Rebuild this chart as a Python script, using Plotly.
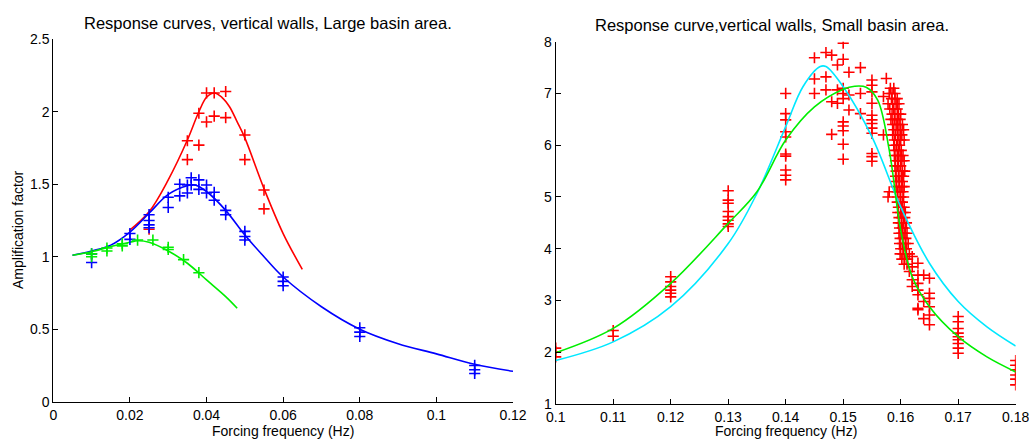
import plotly.graph_objects as go

# ---------------- Left panel: Large basin area ----------------
red_obs_f = [0.025, 0.035, 0.035, 0.038, 0.038, 0.04, 0.04, 0.042, 0.042, 0.045, 0.045, 0.05, 0.05, 0.055, 0.055]
red_obs_a = [1.19, 1.80, 1.67, 1.99, 1.77, 2.13, 1.93, 2.13, 1.97, 2.14, 1.96, 1.84, 1.67, 1.46, 1.33]

blue_obs_f = [0.01, 0.01, 0.02, 0.02, 0.025, 0.025, 0.025, 0.025, 0.03, 0.03, 0.033, 0.033,
              0.035, 0.035, 0.036, 0.036, 0.038, 0.038, 0.04, 0.04, 0.042, 0.042, 0.045, 0.045,
              0.05, 0.05, 0.05, 0.06, 0.06, 0.06, 0.08, 0.08, 0.08, 0.11, 0.11, 0.11]
blue_obs_a = [0.96, 1.02, 1.16, 1.12, 1.29, 1.25, 1.22, 1.20, 1.41, 1.34, 1.50, 1.42,
              1.495, 1.44, 1.545, 1.495, 1.53, 1.465, 1.495, 1.44, 1.445, 1.39, 1.32, 1.29,
              1.175, 1.14, 1.115, 0.86, 0.83, 0.80, 0.51, 0.48, 0.45, 0.25, 0.22, 0.195]

green_obs_f = [0.01, 0.01, 0.014, 0.014, 0.018, 0.018, 0.022, 0.026, 0.03, 0.03, 0.034, 0.038]
green_obs_a = [1.02, 1.00, 1.06, 1.04, 1.09, 1.075, 1.115, 1.115, 1.065, 1.05, 0.98, 0.89]

red_fit_f = [0.0198, 0.025, 0.03, 0.035, 0.038, 0.04, 0.042, 0.044, 0.046, 0.048, 0.05, 0.055, 0.06, 0.065]
red_fit_a = [1.18, 1.31, 1.53, 1.805, 2.0, 2.10, 2.13, 2.10, 2.035, 1.93, 1.82, 1.47, 1.16, 0.913]

blue_fit_f = [0.005, 0.01, 0.015, 0.02, 0.025, 0.03, 0.035, 0.037, 0.04, 0.045, 0.05, 0.055, 0.06,
              0.07, 0.08, 0.09, 0.10, 0.11, 0.12]
blue_fit_a = [1.01, 1.04, 1.08, 1.17, 1.30, 1.43, 1.49, 1.495, 1.45, 1.32, 1.15, 1.00, 0.86,
              0.655, 0.50, 0.40, 0.33, 0.258, 0.21]

green_fit_f = [0.005, 0.01, 0.015, 0.02, 0.022, 0.025, 0.03, 0.035, 0.04, 0.045, 0.048]
green_fit_a = [1.01, 1.035, 1.07, 1.10, 1.11, 1.10, 1.04, 0.955, 0.84, 0.725, 0.645]

# ---------------- Right panel: Small basin area ----------------
small_freq_groups = [0.10, 0.11, 0.12, 0.13, 0.14, 0.145, 0.147, 0.148, 0.149, 0.15, 0.151, 0.153,
                     0.155, 0.157, 0.1575, 0.1615, 0.162, 0.163, 0.164, 0.165, 0.17, 0.18]
small_amp_groups = [
    [2.08, 2.01, 1.91],
    [2.42, 2.31],
    [3.46, 3.36, 3.27, 3.20, 3.14, 3.07],
    [5.12, 4.94, 4.88, 4.72, 4.62, 4.55, 4.48, 4.43],
    [7.0, 6.61, 6.49, 6.26, 6.16, 5.83, 5.79, 5.52, 5.42, 5.33],
    [7.69, 7.28, 7.0],
    [7.79, 7.32, 7.07],
    [7.74, 6.84, 6.21],
    [7.55, 6.81, 7.07],
    [7.97, 7.66, 7.1, 7.0, 6.90, 6.45, 6.37, 6.28, 6.02, 5.73],
    [7.41, 6.97, 6.68],
    [7.50, 7.0, 6.61],
    [7.26, 7.16, 7.03, 6.81, 6.58, 6.49, 6.42, 6.33, 6.23, 5.84, 5.78, 5.69],
    [6.94, 6.20],
    [7.29],
    [3.56],
    [3.85, 3.65, 3.40, 3.27],
    [3.72, 3.49, 3.33, 3.20, 3.11, 2.85, 2.82],
    [3.49, 2.98, 2.65],
    [3.43, 3.14, 3.04, 2.88, 2.72, 2.53],
    [2.69, 2.59, 2.46, 2.37, 2.30, 2.24, 2.17, 2.08, 1.98],
    [1.84, 1.75, 1.66, 1.56, 1.48, 1.37],
]

cluster_levels = [7.1, 7.0, 6.9, 6.8, 6.7, 6.6, 6.5, 6.4, 6.3, 6.2, 6.1, 6.0, 5.9, 5.8, 5.7, 5.6,
                  5.5, 5.4, 5.3, 5.2, 5.1, 5.0, 4.9, 4.8, 4.7, 4.6, 4.5, 4.4, 4.3, 4.2, 4.1, 4.0,
                  3.9, 3.8, 3.7]
cluster_freqs = [
    [0.1582, 0.1588],
    [0.1580, 0.1585, 0.1590],
    [0.1584, 0.1590, 0.1594],
    [0.1578, 0.1586, 0.1592, 0.1597],
    [0.1581, 0.1588, 0.1594],
    [0.1585, 0.1590, 0.1596, 0.1600],
    [0.1583, 0.1589, 0.1594, 0.1599],
    [0.1586, 0.1592, 0.1597, 0.1603],
    [0.1588, 0.1594, 0.1600, 0.1605],
    [0.1586, 0.1591, 0.1597, 0.1602],
    [0.1589, 0.1595, 0.1600, 0.1606],
    [0.1588, 0.1593, 0.1598],
    [0.1590, 0.1596, 0.1601],
    [0.1589, 0.1594, 0.1599, 0.1604],
    [0.1591, 0.1596, 0.1602, 0.1606],
    [0.1590, 0.1595, 0.1600],
    [0.1592, 0.1597, 0.1603, 0.1607],
    [0.1591, 0.1596, 0.1601, 0.1605],
    [0.1593, 0.1598, 0.1603],
    [0.1592, 0.1597, 0.1602, 0.1606],
    [0.1580, 0.1594, 0.1599, 0.1604],
    [0.1578, 0.1595, 0.1600, 0.1605],
    [0.1594, 0.1599, 0.1603],
    [0.1596, 0.1601, 0.1606],
    [0.1595, 0.1600, 0.1604, 0.1608],
    [0.1597, 0.1602, 0.1607],
    [0.1596, 0.1601, 0.1605, 0.1610],
    [0.1598, 0.1603, 0.1608],
    [0.1597, 0.1602, 0.1606, 0.1611],
    [0.1599, 0.1604, 0.1609],
    [0.1598, 0.1603, 0.1608, 0.1613],
    [0.1600, 0.1605, 0.1610],
    [0.1599, 0.1604, 0.1609, 0.1615],
    [0.1602, 0.1607, 0.1612],
    [0.1606, 0.1611],
]

cyan_fit_f = [0.10, 0.11, 0.12, 0.13, 0.135, 0.14, 0.143, 0.146, 0.147, 0.15, 0.155, 0.16,
              0.165, 0.17, 0.175, 0.18]
cyan_fit_a = [1.84, 2.20, 2.88, 4.10, 5.07, 6.36, 7.13, 7.52, 7.52, 7.13, 6.16, 4.81,
              3.72, 2.98, 2.49, 2.12]

green2_fit_f = [0.10, 0.11, 0.12, 0.13, 0.135, 0.14, 0.145, 0.15, 0.152, 0.154, 0.156, 0.158,
                0.16, 0.162, 0.165, 0.17, 0.175, 0.18]
green2_fit_a = [1.99, 2.46, 3.33, 4.49, 5.10, 6.10, 6.74, 7.08, 7.14, 7.12, 6.87, 5.91,
                4.36, 3.46, 2.88, 2.30, 1.91, 1.62]

small_f, small_a = [], []
for f, amps in zip(small_freq_groups, small_amp_groups):
    for a in amps:
        small_f.append(f)
        small_a.append(a)
for a, freqs in zip(cluster_levels, cluster_freqs):
    for f in freqs:
        small_f.append(f)
        small_a.append(a)

FONT = "Arial, Liberation Sans, sans-serif"
RED, BLUE, GREEN, CYAN = "#ff0000", "#0000ff", "#00ee00", "#00e8ff"

def marker(color):
    return dict(symbol="cross-thin", size=8, line=dict(color=color, width=1.6), color=color)

fig = go.Figure()

fig.add_trace(go.Scatter(x=red_fit_f, y=red_fit_a, mode="lines", line=dict(color=RED, width=1.6, shape="spline"), xaxis="x", yaxis="y"))
fig.add_trace(go.Scatter(x=blue_fit_f, y=blue_fit_a, mode="lines", line=dict(color=BLUE, width=1.6, shape="spline"), xaxis="x", yaxis="y"))
fig.add_trace(go.Scatter(x=green_fit_f, y=green_fit_a, mode="lines", line=dict(color=GREEN, width=1.6, shape="spline"), xaxis="x", yaxis="y"))
fig.add_trace(go.Scatter(x=red_obs_f, y=red_obs_a, mode="markers", marker=marker(RED), xaxis="x", yaxis="y"))
fig.add_trace(go.Scatter(x=blue_obs_f, y=blue_obs_a, mode="markers", marker=marker(BLUE), xaxis="x", yaxis="y"))
fig.add_trace(go.Scatter(x=green_obs_f, y=green_obs_a, mode="markers", marker=marker(GREEN), xaxis="x", yaxis="y"))

fig.add_trace(go.Scatter(x=small_f, y=small_a, mode="markers", marker=marker(RED), xaxis="x2", yaxis="y2"))
fig.add_trace(go.Scatter(x=cyan_fit_f, y=cyan_fit_a, mode="lines", line=dict(color=CYAN, width=1.6, shape="spline"), xaxis="x2", yaxis="y2"))
fig.add_trace(go.Scatter(x=green2_fit_f, y=green2_fit_a, mode="lines", line=dict(color=GREEN, width=1.6, shape="spline"), xaxis="x2", yaxis="y2"))

axis_common = dict(showline=True, linecolor="black", linewidth=1, ticks="inside", ticklen=5,
                   tickcolor="black", showgrid=False, zeroline=False, mirror=False, automargin=False,
                   ticklabeloverflow="allow",
                   tickfont=dict(family=FONT, size=14, color="black"))

fig.update_layout(
    width=1029, height=439,
    margin=dict(l=0, r=0, t=0, b=0, autoexpand=False),
    paper_bgcolor="white", plot_bgcolor="white",
    showlegend=False,
    xaxis=dict(domain=[53.3 / 1029, 513 / 1029], range=[0, 0.12],
               tickvals=[0, 0.02, 0.04, 0.06, 0.08, 0.1, 0.12],
               ticktext=["0", "0.02", "0.04", "0.06", "0.08", "0.1", "0.12"],
               anchor="y", **axis_common),
    yaxis=dict(domain=[(439 - 401.7) / 439, (439 - 39.3) / 439], range=[0, 2.5],
               tickvals=[0, 0.5, 1, 1.5, 2, 2.5], ticktext=["0", "0.5", "1", "1.5", "2", "2.5"],
               anchor="x", **axis_common),
    xaxis2=dict(domain=[555.7 / 1029, 1015.7 / 1029], range=[0.1, 0.18],
                tickvals=[0.1, 0.11, 0.12, 0.13, 0.14, 0.15, 0.16, 0.17, 0.18],
                ticktext=["0.1", "0.11", "0.12", "0.13", "0.14", "0.15", "0.16", "0.17", "0.18"],
                anchor="y2", **axis_common),
    yaxis2=dict(domain=[(439 - 404) / 439, (439 - 41.7) / 439], range=[1, 8],
                tickvals=[1, 2, 3, 4, 5, 6, 7, 8], ticktext=["1", "2", "3", "4", "5", "6", "7", "8"],
                anchor="x2", **axis_common),
    annotations=[
        dict(text="Response curves, vertical walls, Large basin area.", x=268 / 1029, y=(439 - 23) / 439,
             xref="paper", yref="paper", showarrow=False, xanchor="center", yanchor="middle",
             font=dict(family=FONT, size=16.5, color="black")),
        dict(text="Response curve,vertical walls, Small basin area.", x=772 / 1029, y=(439 - 25) / 439,
             xref="paper", yref="paper", showarrow=False, xanchor="center", yanchor="middle",
             font=dict(family=FONT, size=16.5, color="black")),
        dict(text="Forcing frequency (Hz)", x=283 / 1029, y=(439 - 431) / 439,
             xref="paper", yref="paper", showarrow=False, xanchor="center", yanchor="middle",
             font=dict(family=FONT, size=14, color="black")),
        dict(text="Forcing frequency (Hz)", x=786 / 1029, y=(439 - 431) / 439,
             xref="paper", yref="paper", showarrow=False, xanchor="center", yanchor="middle",
             font=dict(family=FONT, size=14, color="black")),
        dict(text="Amplification factor", x=18 / 1029, y=(439 - 230) / 439, textangle=-90,
             xref="paper", yref="paper", showarrow=False, xanchor="center", yanchor="middle",
             font=dict(family=FONT, size=14, color="black")),
    ],
)

fig.write_html("out.html", config={"displayModeBar": False},
               post_script="document.body.style.margin='0px';document.body.style.padding='0px';"
                           "document.documentElement.style.overflow='hidden';")
